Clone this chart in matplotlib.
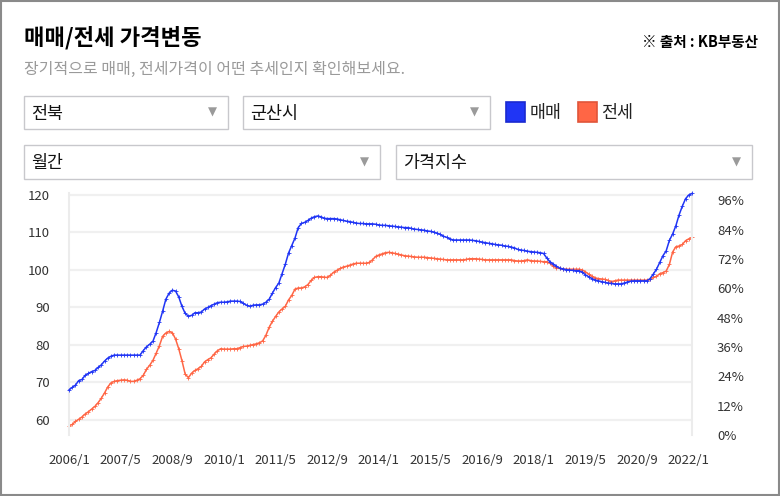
import numpy as np
import matplotlib
matplotlib.use("Agg")
import matplotlib.pyplot as plt
from matplotlib.patches import Rectangle

plt.rcParams['font.family'] = ['Noto Sans CJK KR', 'DejaVu Sans']

# --- data (monthly, 2006/1 ~ 2022/2) ---
sale_idx = [
    68.0, 68.7, 69.3, 70.5, 70.8, 71.9, 72.4, 72.9, 73.2, 74.0, 74.7, 75.7,           # 2006
    76.5, 77.0, 77.3, 77.3, 77.3, 77.3, 77.3, 77.3, 77.3, 77.3, 77.3, 78.5,           # 2007
    79.5, 80.2, 81.0, 83.3, 86.0, 89.0, 92.2, 93.8, 94.6, 94.4, 92.8, 90.3,           # 2008
    88.4, 87.7, 87.9, 88.6, 88.6, 88.8, 89.6, 90.0, 90.5, 90.9, 91.3, 91.4,           # 2009
    91.4, 91.5, 91.7, 91.7, 91.7, 91.6, 91.1, 90.6, 90.3, 90.6, 90.7, 90.7,           # 2010
    90.9, 91.4, 92.2, 93.8, 95.3, 96.5, 99.0, 101.5, 104.5, 106.5, 108.5, 111.3,      # 2011
    112.4, 112.7, 113.2, 113.8, 114.2, 114.4, 114.2, 113.8, 113.7, 113.7, 113.7, 113.6,  # 2012
    113.4, 113.2, 113.0, 112.9, 112.7, 112.5, 112.4, 112.4, 112.3, 112.3, 112.3, 112.2,  # 2013
    112.0, 111.9, 111.9, 111.8, 111.7, 111.6, 111.5, 111.4, 111.3, 111.3, 111.1, 110.9,  # 2014
    110.8, 110.7, 110.6, 110.4, 110.3, 110.1, 109.8, 109.5, 109.0, 108.7, 108.3, 108.0,  # 2015
    108.0, 108.0, 108.0, 108.0, 108.0, 107.9, 107.8, 107.6, 107.4, 107.3, 107.1, 107.0,  # 2016
    106.8, 106.7, 106.6, 106.4, 106.3, 106.1, 105.9, 105.5, 105.3, 105.2, 105.0, 104.9,  # 2017
    104.8, 104.7, 104.6, 104.4, 103.2, 102.2, 101.6, 101.0, 100.5, 100.3, 100.1, 100.0,  # 2018
    99.9, 99.8, 99.8, 99.4, 98.7, 98.2, 97.7, 97.3, 97.1, 96.9, 96.7, 96.5,           # 2019
    96.4, 96.3, 96.3, 96.3, 96.5, 96.8, 97.0, 97.1, 97.1, 97.1, 97.1, 97.1,           # 2020
    97.7, 98.9, 100.2, 102.0, 103.8, 105.1, 107.9, 109.6, 111.8, 114.7, 117.0, 119.0,  # 2021
    120.0, 120.4,                                                                      # 2022
]
jeonse_idx = [
    58.5, 58.8, 59.6, 60.2, 60.8, 61.6, 62.2, 62.9, 63.6, 64.6, 65.8, 67.2,           # 2006
    68.8, 69.9, 70.3, 70.5, 70.6, 70.7, 70.6, 70.3, 70.3, 70.6, 71.0, 71.9,           # 2007
    73.5, 74.6, 75.9, 77.8, 79.8, 82.3, 83.2, 83.6, 83.3, 81.6, 79.0, 75.8,           # 2008
    72.2, 71.3, 72.5, 73.2, 73.7, 74.3, 75.5, 76.1, 76.6, 77.6, 78.5, 79.0,           # 2009
    78.9, 78.9, 78.9, 79.0, 79.0, 79.3, 79.6, 79.7, 79.9, 80.1, 80.3, 80.6,           # 2010
    81.1, 82.6, 84.7, 86.3, 87.6, 88.8, 89.6, 90.3, 92.0, 93.2, 94.9, 95.2,           # 2011
    95.2, 95.5, 96.1, 97.2, 98.0, 98.2, 98.2, 98.1, 98.0, 98.6, 99.4, 99.9,           # 2012
    100.4, 100.8, 101.0, 101.3, 101.6, 101.8, 101.8, 101.8, 101.8, 102.0, 102.7, 103.6,  # 2013
    104.0, 104.3, 104.6, 104.7, 104.6, 104.4, 104.2, 104.0, 103.8, 103.7, 103.6, 103.5,  # 2014
    103.4, 103.4, 103.4, 103.3, 103.2, 103.1, 103.0, 102.9, 102.8, 102.7, 102.7, 102.7,  # 2015
    102.7, 102.7, 102.7, 102.8, 103.0, 103.0, 103.0, 102.9, 102.8, 102.7, 102.7, 102.7,  # 2016
    102.7, 102.7, 102.7, 102.7, 102.7, 102.7, 102.5, 102.4, 102.4, 102.5, 102.7, 102.5,  # 2017
    102.4, 102.4, 102.3, 102.2, 102.2, 101.8, 101.0, 100.6, 100.4, 100.2, 100.2, 100.2,  # 2018
    100.2, 100.2, 100.2, 100.0, 99.5, 98.9, 98.3, 97.9, 97.7, 97.6, 97.5, 97.2,       # 2019
    96.9, 97.1, 97.3, 97.3, 97.3, 97.3, 97.3, 97.3, 97.3, 97.3, 97.3, 97.3,           # 2020
    97.5, 98.0, 98.3, 99.0, 99.3, 99.7, 101.5, 104.8, 106.2, 106.4, 106.8, 107.8,     # 2021
    108.3, 108.7,                                                                      # 2022
]
x_labels = ["2006/1", "2007/5", "2008/9", "2010/1", "2011/5", "2012/9", "2014/1",
            "2015/5", "2016/9", "2018/1", "2019/5", "2020/9", "2022/1"]
left_ticks = [60, 70, 80, 90, 100, 110, 120]
right_ticks = [0, 12, 24, 36, 48, 60, 72, 84, 96]

SALE_COLOR = "#2035f5"
JEONSE_COLOR = "#ff6645"
W, H = 780, 496

fig = plt.figure(figsize=(W / 100, H / 100), dpi=100)

# --- page decorations (pixel coords overlay) ---
deco = fig.add_axes([0, 0, 1, 1])
deco.set_xlim(0, W)
deco.set_ylim(H, 0)
deco.axis("off")
deco.add_patch(Rectangle((1, 1), W - 2, H - 2, fill=False, ec="#8a8a8a", lw=1.5))

deco.text(24, 38, "매매/전세 가격변동", fontsize=16, fontweight="bold", va="center", ha="left")
deco.text(758, 42, "※ 출처 : KB부동산", fontsize=10.5, fontweight="bold", va="center", ha="right")
deco.text(24, 69, "장기적으로 매매, 전세가격이 어떤 추세인지 확인해보세요.", fontsize=11.5,
          color="#9a9a9a", va="center", ha="left")

boxes = [
    (24, 96, 204, 33, "전북"),
    (243, 96, 247, 33, "군산시"),
    (24, 145, 356, 34, "월간"),
    (396, 145, 356, 34, "가격지수"),
]
for bx, by, bw, bh, label in boxes:
    deco.add_patch(Rectangle((bx, by), bw, bh, fill=False, ec="#c8c8cc", lw=1.0))
    deco.text(bx + 7, by + bh / 2 + 1, label, fontsize=12.5, va="center", ha="left", color="#111")
    deco.text(bx + bw - 16, by + bh / 2, "▼", fontsize=8.5, va="center", ha="center",
              color="#9a9a9a", family=["DejaVu Sans"])

# legend
deco.add_patch(Rectangle((506, 102), 19, 20, fc=SALE_COLOR, ec="#1a2ad0", lw=1.2))
deco.text(530, 113, "매매", fontsize=12.5, va="center", ha="left", color="#222")
deco.add_patch(Rectangle((578, 102), 19, 20, fc=JEONSE_COLOR, ec="#e0553a", lw=1.2))
deco.text(601, 113, "전세", fontsize=12.5, va="center", ha="left", color="#222")

# --- chart ---
x0, x1, y0, y1 = 69, 692, 193, 435
ax = fig.add_axes([x0 / W, 1 - y1 / H, (x1 - x0) / W, (y1 - y0) / H])
xs = np.arange(len(sale_idx))
ax.plot(xs, sale_idx, color=SALE_COLOR, lw=1.1, marker="+", ms=2.5, mew=0.6, zorder=3, clip_on=False)
ax.plot(xs, jeonse_idx, color=JEONSE_COLOR, lw=1.1, marker="+", ms=2.5, mew=0.6, zorder=2, clip_on=False)

ax.set_xlim(0, len(sale_idx) - 1)
ax.set_ylim(56, 120.53)
ax.set_yticks(left_ticks)
ax.set_xticks(np.arange(len(x_labels)) * 16)
ax.set_xticklabels(x_labels)
ax.grid(axis="y", color="#f0f0f0", lw=1.6)
ax.set_axisbelow(True)
for side in ["top", "bottom"]:
    ax.spines[side].set_visible(False)
for side in ["left", "right"]:
    ax.spines[side].set_color("#ececec")
    ax.spines[side].set_linewidth(1.5)
ax.tick_params(axis="both", length=0, labelsize=9.5, labelcolor="#333")
ax.tick_params(axis="y", pad=14)
ax.tick_params(axis="x", pad=14)

ax2 = ax.twinx()
ax2.set_ylim(0, 99.0)
ax2.set_yticks(right_ticks)
ax2.set_yticklabels([f"{t}%" for t in right_ticks])
for side in ["top", "bottom", "left", "right"]:
    ax2.spines[side].set_visible(False)
ax2.tick_params(axis="y", length=0, labelsize=9.5, labelcolor="#333", pad=18)

fig.savefig("out.png", dpi=100)
